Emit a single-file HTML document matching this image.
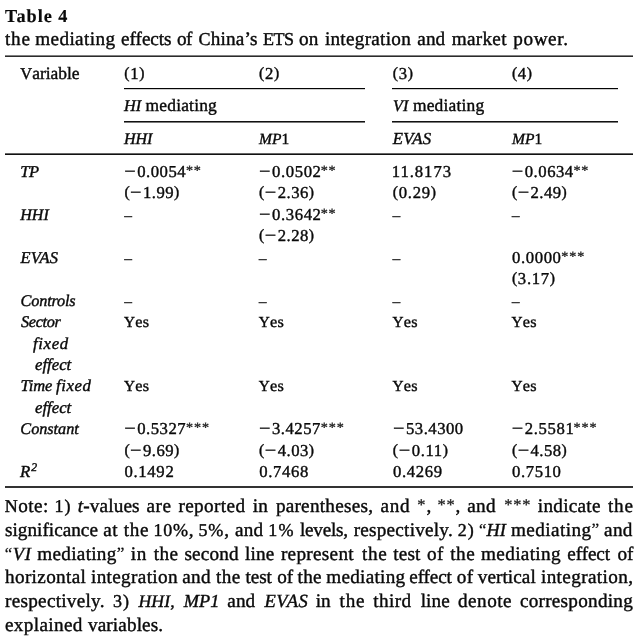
<!DOCTYPE html>
<html lang="en">
<head>
<meta charset="utf-8">
<title>Table 4</title>
<style>
html,body{margin:0;padding:0;background:#fff}
#sheet{position:relative;width:640px;height:640px;overflow:hidden;background:#fff;font-family:"Liberation Serif", serif;font-size:16.7px;line-height:24px;color:#0a0a0a;text-rendering:geometricPrecision;-webkit-text-stroke:0.4px #0a0a0a}
.caption,.note,table,thead,tbody,tr,th,td{display:contents;font-weight:normal}
.caption,.note{font-size:19.2px}
.w{position:absolute;white-space:nowrap;line-height:0}
.w::before{content:"";display:inline-block;width:0;height:20px;vertical-align:baseline}
i{font-style:italic}
b{font-weight:bold;-webkit-text-stroke:0.15px}
.st{color:#222;-webkit-text-stroke:0.3px;font-size:0.85em;position:relative;top:-0.13em;line-height:0}
.c{font-size:0.94em}
.q{font-size:0.9em;position:relative;top:-1px;line-height:0;-webkit-text-stroke:0.2px}
.d{color:#2a2a2a;-webkit-text-stroke:0.6px;font-size:0.88em}
.p{font-size:0.94em;position:relative;top:-0.6px}
.mn{font-size:1.22em;position:relative;top:0.9px;line-height:0;margin-right:0.05em;-webkit-text-stroke:0.25px}
sup{font-size:0.7em;vertical-align:baseline;position:relative;top:-0.55em;line-height:0}
.r{position:absolute;height:2px}
</style>
</head>
<body>
<div id="sheet">
<div class="caption">
<span class="w" style="left:5.02px;top:2px;font-size:18.24px;letter-spacing:0.99px"><b>Table</b></span> <span class="w" style="left:58.27px;top:2px;font-size:18.24px"><b>4</b></span><br>
<span class="w" style="left:4.98px;top:25px;letter-spacing:0.77px">the</span> <span class="w" style="left:35.20px;top:25px;letter-spacing:0.39px">mediating</span> <span class="w" style="left:121.12px;top:25px;letter-spacing:-0.05px">effects</span> <span class="w" style="left:177.03px;top:25px;letter-spacing:-0.60px">of</span> <span class="w" style="left:198.60px;top:25px;letter-spacing:0.16px"><span class="c">C</span>hina’s</span> <span class="w" style="left:263.03px;top:25px;letter-spacing:-0.54px"><span class="c">ETS</span></span> <span class="w" style="left:299.03px;top:25px;letter-spacing:0.11px">on</span> <span class="w" style="left:324.89px;top:25px;letter-spacing:0.28px">integration</span> <span class="w" style="left:417.28px;top:25px;letter-spacing:0.12px">and</span> <span class="w" style="left:451.80px;top:25px;letter-spacing:0.28px">market</span> <span class="w" style="left:513.28px;top:25px;letter-spacing:0.60px">power.</span>
</div>
<div class="r" style="left:5px;top:55px;width:628.2px;background:linear-gradient(#808080 50%,#2b2b2b 50%)"></div>
<div class="r" style="left:124px;top:88px;width:241.2px;background:linear-gradient(#050505 50%,#cfcfcf 50%)"></div>
<div class="r" style="left:392.3px;top:88px;width:226px;background:linear-gradient(#050505 50%,#cfcfcf 50%)"></div>
<div class="r" style="left:124px;top:121px;width:241.2px;background:linear-gradient(#111 50%,#7a7a7a 50%)"></div>
<div class="r" style="left:392.3px;top:121px;width:226px;background:linear-gradient(#111 50%,#7a7a7a 50%)"></div>
<div class="r" style="left:5px;top:153px;width:628.2px;background:linear-gradient(#666 50%,#111 50%)"></div>
<div class="r" style="left:5px;top:486px;width:628.2px;background:linear-gradient(#333 50%,#333 50%)"></div>
<table>
<thead>
<tr><th><span class="w" style="left:20.36px;top:59px;font-size:17.45px;letter-spacing:-0.02px"><span class="c">V</span>ariable</span></th><th><span class="w" style="left:124.36px;top:59px;letter-spacing:0.68px"><span class="p">(</span>1<span class="p">)</span></span></th><th><span class="w" style="left:259.06px;top:59px;letter-spacing:0.67px"><span class="p">(</span>2<span class="p">)</span></span></th><th><span class="w" style="left:392.81px;top:59px;letter-spacing:0.67px"><span class="p">(</span>3<span class="p">)</span></span></th><th><span class="w" style="left:511.91px;top:59px;letter-spacing:0.68px"><span class="p">(</span>4<span class="p">)</span></span></th></tr>
<tr><th></th><th><span class="w" style="left:124.02px;top:91px;font-size:16.25px;letter-spacing:0.03px"><i>HI</i></span> <span class="w" style="left:145.57px;top:91px;font-size:17.45px;letter-spacing:0.19px">mediating</span></th><th></th><th><span class="w" style="left:393.08px;top:91px;font-size:16px;letter-spacing:0.09px"><i>VI</i></span> <span class="w" style="left:412.92px;top:91px;font-size:17.45px;letter-spacing:0.19px">mediating</span></th><th></th></tr>
<tr><th></th><th><span class="w" style="left:124.02px;top:124px;font-size:16px;letter-spacing:-0.06px"><i>HHI</i></span></th><th><span class="w" style="left:258.97px;top:124px;font-size:15.5px;letter-spacing:0.05px"><i>MP</i>1</span></th><th><span class="w" style="left:392.68px;top:124px;font-size:16.75px;letter-spacing:0.24px"><i>EVAS</i></span></th><th><span class="w" style="left:512.07px;top:124px;font-size:15.5px"><i>MP</i>1</span></th></tr>
</thead>
<tbody>
<tr><td><span class="w" style="left:20.20px;top:157px;font-size:16.5px;letter-spacing:-0.28px"><i>TP</i></span></td><td><span class="w" style="left:124.20px;top:157px;letter-spacing:0.51px"><span class="mn">−</span>0.0054</span><span class="w" style="left:185.95px;top:157px;letter-spacing:0.73px"><span class="st">**</span></span></td><td><span class="w" style="left:258.90px;top:157px;letter-spacing:0.61px"><span class="mn">−</span>0.0502</span><span class="w" style="left:320.65px;top:157px;letter-spacing:0.73px"><span class="st">**</span></span></td><td><span class="w" style="left:391.74px;top:157px;letter-spacing:0.95px">11.8173</span></td><td><span class="w" style="left:511.75px;top:157px;letter-spacing:0.51px"><span class="mn">−</span>0.0634</span><span class="w" style="left:573.50px;top:157px;letter-spacing:0.73px"><span class="st">**</span></span></td></tr>
<tr><td></td><td><span class="w" style="left:124.41px;top:178px;letter-spacing:0.44px"><span class="p">(</span><span class="mn">−</span>1.99<span class="p">)</span></span></td><td><span class="w" style="left:259.11px;top:178px;letter-spacing:0.44px"><span class="p">(</span><span class="mn">−</span>2.36<span class="p">)</span></span></td><td><span class="w" style="left:392.86px;top:178px;letter-spacing:0.68px"><span class="p">(</span>0.29<span class="p">)</span></span></td><td><span class="w" style="left:511.96px;top:178px;letter-spacing:0.44px"><span class="p">(</span><span class="mn">−</span>2.49<span class="p">)</span></span></td></tr>
<tr><td><span class="w" style="left:20.17px;top:200px;font-size:16px;letter-spacing:0.12px"><i>HHI</i></span></td><td><span class="w" style="left:124.42px;top:200px"><span class="d">–</span></span></td><td><span class="w" style="left:258.90px;top:200px;letter-spacing:0.61px"><span class="mn">−</span>0.3642</span><span class="w" style="left:320.65px;top:200px;letter-spacing:0.73px"><span class="st">**</span></span></td><td><span class="w" style="left:392.87px;top:200px"><span class="d">–</span></span></td><td><span class="w" style="left:511.97px;top:200px"><span class="d">–</span></span></td></tr>
<tr><td></td><td></td><td><span class="w" style="left:259.11px;top:221px;letter-spacing:0.44px"><span class="p">(</span><span class="mn">−</span>2.28<span class="p">)</span></span></td><td></td><td></td></tr>
<tr><td><span class="w" style="left:20.58px;top:243px;font-size:16.5px;letter-spacing:0.04px"><i>EVAS</i></span></td><td><span class="w" style="left:124.42px;top:243px"><span class="d">–</span></span></td><td><span class="w" style="left:259.12px;top:243px"><span class="d">–</span></span></td><td><span class="w" style="left:392.87px;top:243px"><span class="d">–</span></span></td><td><span class="w" style="left:512.09px;top:243px;letter-spacing:0.59px">0.0000</span><span class="w" style="left:561.30px;top:243px;letter-spacing:0.91px"><span class="st">***</span></span></td></tr>
<tr><td></td><td></td><td></td><td></td><td><span class="w" style="left:511.96px;top:264px;letter-spacing:0.68px"><span class="p">(</span>3.17<span class="p">)</span></span></td></tr>
<tr><td><span class="w" style="left:20.55px;top:286px;font-size:16.25px;letter-spacing:-0.17px"><i>Controls</i></span></td><td><span class="w" style="left:124.42px;top:286px"><span class="d">–</span></span></td><td><span class="w" style="left:259.12px;top:286px"><span class="d">–</span></span></td><td><span class="w" style="left:392.87px;top:286px"><span class="d">–</span></span></td><td><span class="w" style="left:511.97px;top:286px"><span class="d">–</span></span></td></tr>
<tr><td><span class="w" style="left:21.12px;top:307px;font-size:16.25px;letter-spacing:-0.36px"><i>Sector</i></span></td><td><span class="w" style="left:124.07px;top:307px;font-size:16.2px;letter-spacing:0.24px"><span class="c">Y</span>es</span></td><td><span class="w" style="left:258.77px;top:307px;font-size:16.2px;letter-spacing:0.24px"><span class="c">Y</span>es</span></td><td><span class="w" style="left:392.52px;top:307px;font-size:16.2px;letter-spacing:0.24px"><span class="c">Y</span>es</span></td><td><span class="w" style="left:511.62px;top:307px;font-size:16.2px;letter-spacing:0.24px"><span class="c">Y</span>es</span></td></tr>
<tr><td><span class="w" style="left:33.09px;top:329px;font-size:16.75px;letter-spacing:0.61px"><i>fixed</i></span></td><td></td><td></td><td></td><td></td></tr>
<tr><td><span class="w" style="left:35.06px;top:350px;font-size:16.75px;letter-spacing:-0.02px"><i>effect</i></span></td><td></td><td></td><td></td><td></td></tr>
<tr><td><span class="w" style="left:20.50px;top:371px;font-size:16.5px;letter-spacing:-0.05px"><i>Time</i></span> <span class="w" style="left:55.99px;top:371px;font-size:16.75px;letter-spacing:0.57px"><i>fixed</i></span></td><td><span class="w" style="left:124.07px;top:371px;font-size:16.2px;letter-spacing:0.24px"><span class="c">Y</span>es</span></td><td><span class="w" style="left:258.77px;top:371px;font-size:16.2px;letter-spacing:0.24px"><span class="c">Y</span>es</span></td><td><span class="w" style="left:392.52px;top:371px;font-size:16.2px;letter-spacing:0.24px"><span class="c">Y</span>es</span></td><td><span class="w" style="left:511.62px;top:371px;font-size:16.2px;letter-spacing:0.24px"><span class="c">Y</span>es</span></td></tr>
<tr><td><span class="w" style="left:35.06px;top:393px;font-size:16.75px;letter-spacing:-0.02px"><i>effect</i></span></td><td></td><td></td><td></td><td></td></tr>
<tr><td><span class="w" style="left:20.35px;top:414px;font-size:16.25px;letter-spacing:-0.04px"><i>Constant</i></span></td><td><span class="w" style="left:124.20px;top:414px;letter-spacing:0.51px"><span class="mn">−</span>0.5327</span><span class="w" style="left:185.95px;top:414px;letter-spacing:0.91px"><span class="st">***</span></span></td><td><span class="w" style="left:258.90px;top:414px;letter-spacing:0.51px"><span class="mn">−</span>3.4257</span><span class="w" style="left:320.65px;top:414px;letter-spacing:0.91px"><span class="st">***</span></span></td><td><span class="w" style="left:392.95px;top:414px;letter-spacing:0.50px"><span class="mn">−</span>53.4300</span></td><td><span class="w" style="left:511.75px;top:414px;letter-spacing:0.60px"><span class="mn">−</span>2.5581</span><span class="w" style="left:573.50px;top:414px;letter-spacing:0.91px"><span class="st">***</span></span></td></tr>
<tr><td></td><td><span class="w" style="left:124.41px;top:436px;letter-spacing:0.44px"><span class="p">(</span><span class="mn">−</span>9.69<span class="p">)</span></span></td><td><span class="w" style="left:259.11px;top:436px;letter-spacing:0.44px"><span class="p">(</span><span class="mn">−</span>4.03<span class="p">)</span></span></td><td><span class="w" style="left:392.86px;top:436px;letter-spacing:0.58px"><span class="p">(</span><span class="mn">−</span>0.11<span class="p">)</span></span></td><td><span class="w" style="left:511.96px;top:436px;letter-spacing:0.44px"><span class="p">(</span><span class="mn">−</span>4.58<span class="p">)</span></span></td></tr>
<tr><td><span class="w" style="left:20.04px;top:457px;font-size:16.75px;letter-spacing:0.91px"><i>R<sup>2</sup></i></span></td><td><span class="w" style="left:124.54px;top:457px;letter-spacing:0.66px">0.1492</span></td><td><span class="w" style="left:259.24px;top:457px;letter-spacing:0.63px">0.7468</span></td><td><span class="w" style="left:392.99px;top:457px;letter-spacing:0.64px">0.4269</span></td><td><span class="w" style="left:512.09px;top:457px;letter-spacing:0.59px">0.7510</span></td></tr>
</tbody>
</table>
<p class="note">
<span class="w" style="left:4.83px;top:492px;letter-spacing:0.43px"><span class="c">N</span>ote:</span> <span class="w" style="left:54.56px;top:492px;letter-spacing:0.96px"><span class="c">1)</span></span> <span class="w" style="left:77.76px;top:492px;font-size:19.25px;letter-spacing:0.13px"><i>t</i>-values</span> <span class="w" style="left:146.58px;top:492px;letter-spacing:0.53px">are</span> <span class="w" style="left:178.40px;top:492px;letter-spacing:0.40px">reported</span> <span class="w" style="left:252.69px;top:492px;letter-spacing:0.26px">in</span> <span class="w" style="left:275.88px;top:492px;letter-spacing:0.25px">parentheses,</span> <span class="w" style="left:380.48px;top:492px;letter-spacing:0.74px">and</span><span class="w" style="left:417.25px;top:492px;letter-spacing:1.01px"><span class="st">*</span>,</span><span class="w" style="left:437.55px;top:492px;letter-spacing:0.85px"><span class="st">**</span>,</span> <span class="w" style="left:467.18px;top:492px;letter-spacing:0.34px">and</span><span class="w" style="left:504.25px;top:492px;letter-spacing:0.86px"><span class="st">***</span></span> <span class="w" style="left:537.79px;top:492px;letter-spacing:0.28px">indicate</span> <span class="w" style="left:607.88px;top:492px;letter-spacing:0.83px">the</span>
<span class="w" style="left:4.99px;top:516px;letter-spacing:0.02px">significance</span> <span class="w" style="left:103.18px;top:516px;letter-spacing:0.54px">at</span> <span class="w" style="left:123.63px;top:516px;letter-spacing:0.71px">the</span> <span class="w" style="left:153.56px;top:516px;letter-spacing:0.74px"><span class="c">10%</span>,</span> <span class="w" style="left:198.50px;top:516px;letter-spacing:0.83px"><span class="c">5%</span>,</span> <span class="w" style="left:234.88px;top:516px;letter-spacing:0.29px">and</span> <span class="w" style="left:268.36px;top:516px;letter-spacing:1.11px"><span class="c">1%</span></span> <span class="w" style="left:299.91px;top:516px;letter-spacing:-0.23px">levels,</span> <span class="w" style="left:353.70px;top:516px;letter-spacing:0.23px">respectively.</span> <span class="w" style="left:457.70px;top:516px;letter-spacing:1.16px"><span class="c">2)</span></span> <span class="w" style="left:479.12px;top:516px;font-size:18.25px;letter-spacing:0.08px"><span class="q">“</span><i>HI</i></span> <span class="w" style="left:511.05px;top:516px;letter-spacing:0.40px">mediating<span class="q">”</span></span> <span class="w" style="left:604.08px;top:516px;letter-spacing:0.34px">and</span>
<span class="w" style="left:4.66px;top:540px;font-size:18.5px;letter-spacing:0.75px"><span class="q">“</span><i>VI</i></span> <span class="w" style="left:37.30px;top:540px;letter-spacing:0.29px">mediating<span class="q">”</span></span> <span class="w" style="left:130.69px;top:540px;letter-spacing:0.77px">in</span> <span class="w" style="left:153.78px;top:540px;letter-spacing:0.46px">the</span> <span class="w" style="left:184.39px;top:540px;letter-spacing:0.19px">second</span> <span class="w" style="left:245.11px;top:540px;letter-spacing:0.10px">line</span> <span class="w" style="left:280.90px;top:540px;letter-spacing:0.31px">represent</span> <span class="w" style="left:361.88px;top:540px;letter-spacing:0.67px">the</span> <span class="w" style="left:393.18px;top:540px;letter-spacing:0.18px">test</span> <span class="w" style="left:426.93px;top:540px;letter-spacing:0.56px">of</span> <span class="w" style="left:450.18px;top:540px;letter-spacing:0.53px">the</span> <span class="w" style="left:481.05px;top:540px;letter-spacing:0.35px">mediating</span> <span class="w" style="left:567.32px;top:540px;letter-spacing:-0.11px">effect</span> <span class="w" style="left:617.43px;top:540px;letter-spacing:0.03px">of</span>
<span class="w" style="left:5.02px;top:563px;letter-spacing:0.34px">horizontal</span> <span class="w" style="left:90.99px;top:563px;letter-spacing:0.34px">integration</span> <span class="w" style="left:182.18px;top:563px;letter-spacing:0.34px">and</span> <span class="w" style="left:216.08px;top:563px;letter-spacing:0.40px">the</span> <span class="w" style="left:245.48px;top:563px;letter-spacing:-0.09px">test</span> <span class="w" style="left:277.23px;top:563px;letter-spacing:-0.18px">of</span> <span class="w" style="left:297.48px;top:563px;letter-spacing:0.33px">the</span> <span class="w" style="left:326.30px;top:563px;letter-spacing:0.26px">mediating</span> <span class="w" style="left:409.32px;top:563px;letter-spacing:-0.16px">effect</span> <span class="w" style="left:456.63px;top:563px;letter-spacing:0.50px">of</span> <span class="w" style="left:477.80px;top:563px;letter-spacing:0.06px">vertical</span> <span class="w" style="left:540.94px;top:563px;letter-spacing:0.37px">integration,</span>
<span class="w" style="left:5.10px;top:587px;letter-spacing:0.26px">respectively.</span> <span class="w" style="left:112.95px;top:587px;letter-spacing:1.01px"><span class="c">3)</span></span> <span class="w" style="left:138.47px;top:587px;font-size:17.75px;letter-spacing:0.06px"><i>HHI</i>,</span> <span class="w" style="left:183.79px;top:587px;font-size:18.25px;letter-spacing:0.02px"><i>MP1</i></span> <span class="w" style="left:227.28px;top:587px;letter-spacing:0.12px">and</span> <span class="w" style="left:264.49px;top:587px;font-size:18.5px;letter-spacing:0.53px"><i>EVAS</i></span> <span class="w" style="left:315.79px;top:587px;letter-spacing:-0.15px">in</span> <span class="w" style="left:339.58px;top:587px;letter-spacing:0.79px">the</span> <span class="w" style="left:373.28px;top:587px;letter-spacing:0.39px">third</span> <span class="w" style="left:420.71px;top:587px;letter-spacing:0.06px">line</span> <span class="w" style="left:458.04px;top:587px;letter-spacing:0.47px">denote</span> <span class="w" style="left:519.92px;top:587px;letter-spacing:0.26px">corresponding</span>
<span class="w" style="left:4.92px;top:611px;letter-spacing:0.36px">explained</span> <span class="w" style="left:88.00px;top:611px;letter-spacing:0.12px">variables.</span>
</p>
</div>
</body>
</html>
